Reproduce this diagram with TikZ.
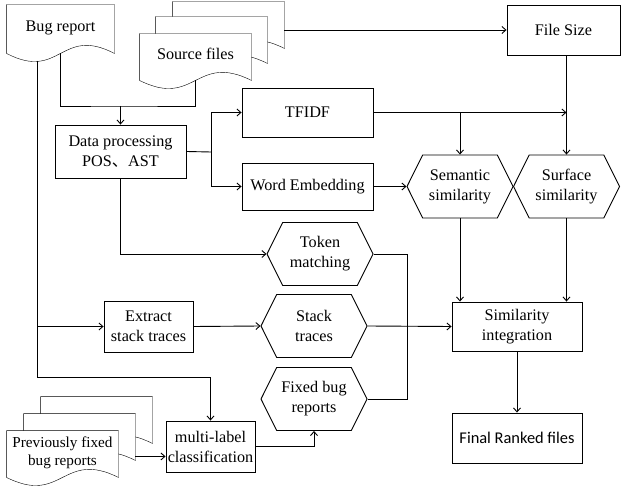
\documentclass[tikz,border=0pt]{standalone}
\usepackage{fontspec}
\setmainfont{Liberation Serif}
\newfontfamily\timesf{Liberation Serif}
\newfontfamily\calibri{Carlito}
\newfontfamily\cjk{Noto Sans CJK SC}
\usetikzlibrary{arrows.meta,positioning,calc,shapes.symbols,backgrounds}

\begin{document}
\begin{tikzpicture}[x=1pt,y=-1pt,>={Straight Barb[length=4pt,width=7pt]},
  line width=0.9pt,
  every node/.style={font=\timesf\fontsize{16.2}{20}\selectfont},
  box/.style={draw,fill=white,align=center,inner sep=0pt},
  docu/.style={minimum width=111,minimum height=46,align=center,inner sep=0pt,text depth=6pt},
  hexa/.style={signal,signal to=west and east,signal pointer angle=127,draw,fill=white,
    minimum width=106,minimum height=63,align=center,inner sep=0pt}]
\useasboundingbox (0,0) rectangle (621,486);
% documents
\node[docu,minimum width=107,minimum height=48] (bug) at (60.5,29) {Bug report};
\node[docu] (src3) at (228.5,25) {};
\node[docu] (src2) at (211.5,40) {};
\node[docu] (src) at (195.5,57) {Source files};
\node[docu] (prev3) at (96.5,420) {};
\node[docu] (prev2) at (79.5,437) {};
\node[docu,font=\timesf\fontsize{15.2}{18}\selectfont] (prev) at (62.5,454) {Previously fixed\\bug reports};
\begin{scope}[on background layer]
\foreach \d in {bug,src3,src2,src,prev3,prev2,prev}{
  \filldraw[fill=white] (\d.north west) -- (\d.north east) -- (\d.south east)
    .. controls ($(\d.south)+(0,-28)$) and ($(\d.south)+(0,28)$) .. (\d.south west) -- cycle;}
\end{scope}
% boxes
\node[box,minimum width=131,minimum height=53] (data) at (120.5,151.5) {Data processing\\POS{\cjk 、}AST};
\node[box,minimum width=131,minimum height=49] (tfidf) at (307.5,112.5) {TFIDF};
\node[box,minimum width=131,minimum height=47] (we) at (307.5,186.5) {Word Embedding};
\node[box,minimum width=113,minimum height=50] (size) at (563.5,30) {File Size};
\node[box,minimum width=89,minimum height=51] (extract) at (148.5,326.5) {Extract\\stack traces};
\node[box,minimum width=89,minimum height=51] (mlc) at (210.5,446.5) {multi-label\\classification};
\node[box,minimum width=130,minimum height=49] (sim) at (517,326.5) {Similarity\\integration};
\node[box,minimum width=130,minimum height=50,font=\calibri\fontsize{16.4}{20}\selectfont] (final) at (517,438) {Final Ranked files};
% hexagons
\node[hexa] (sem) at (460,186.5) {Semantic\\similarity};
\node[hexa] (surf) at (566.5,186.5) {Surface\\similarity};
\node[hexa] (tok) at (320,254) {Token\\matching};
\node[hexa] (stack) at (314,326) {Stack\\traces};
\node[hexa] (fixed) at (314,399) {Fixed bug\\reports};
% connectors
\coordinate (merge) at (120.5,106);
\coordinate (bugtail) at (37,61);
\coordinate (split) at (211,152);
\coordinate (prevout) at ([yshift=4pt]prev2.south east);
\draw[->] (src3.east |- size.west) -- (size.west);
\draw (bug.south) |- (merge) -| (src.south);
\draw[->] (merge) -- (data.north);
\draw[->] (bugtail) |- (extract.west);
\draw[->] (bugtail) |- ([yshift=43pt]mlc.north) -- (mlc.north);
\draw (data.east) -- (split);
\draw[->] (split) |- (tfidf.west);
\draw[->] (split) |- (we.west);
\draw[->] (tfidf.east) -- (tfidf.east -| surf.north);
\draw[->] (tfidf.east -| sem.north) -- (sem.north);
\draw[->] (size.south -| surf.north) -- (surf.north);
\draw[->] (we.east) -- (sem.west);
\draw[->] (sem.south) -- (sem.south |- sim.north);
\draw[->] (surf.south) -- (surf.south |- sim.north);
\draw[->] (sim.south) -- (final.north);
\draw[->] (data.south) |- (tok.west);
\draw (tok.east) -- ++(34,0) |- (fixed.east);
\draw[->] (extract.east) -- (stack.west);
\draw[->] (stack.east) -- (sim.west);
\draw[->] (mlc.east) -| (fixed.south);
\draw[->] (prevout) -- (prevout -| mlc.west);
\end{tikzpicture}
\end{document}
